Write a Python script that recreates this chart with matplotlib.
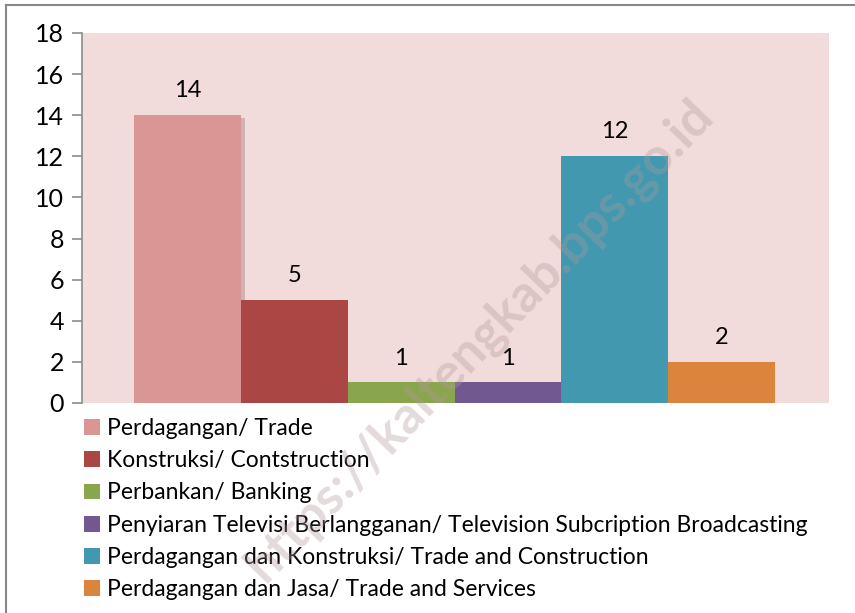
import matplotlib
matplotlib.use("Agg")
import matplotlib.pyplot as plt
from matplotlib.lines import Line2D
import matplotlib.patheffects as pe

categories = [
    "Perdagangan/ Trade",
    "Konstruksi/ Contstruction",
    "Perbankan/ Banking",
    "Penyiaran Televisi Berlangganan/ Television Subcription Broadcasting",
    "Perdagangan dan Konstruksi/ Trade and Construction",
    "Perdagangan dan Jasa/ Trade and Services",
]
values = [14, 5, 1, 1, 12, 2]
colors = ["#D99694", "#AA4644", "#89A54E", "#71588F", "#4198AF", "#DB843D"]
yticks = [0, 2, 4, 6, 8, 10, 12, 14, 16, 18]

plt.rcParams['font.family'] = ['Lato', 'DejaVu Sans']

W, H = 855, 613
fig = plt.figure(figsize=(W / 100, H / 100), dpi=100)
fig.patch.set_facecolor("white")

ax = fig.add_axes([82 / W, (H - 403) / H, (829 - 82) / W, (403 - 33) / H])
ax.set_facecolor("#F2DCDB")

x = list(range(len(values)))
bars = ax.bar(x, values, width=1.0, color=colors, zorder=2)
bars[0].set_path_effects([pe.SimplePatchShadow(offset=(3, -2), shadow_rgbFace="#8a6a6a", alpha=0.35), pe.Normal()])

ax.bar_label(bars, labels=[str(v) for v in values], padding=10, fontsize=17, color="#000000")

ax.set_ylim(0, 18)
ax.set_xlim(-0.5 - 52 / 107, 5.5 + 54 / 107)
ax.set_yticks(yticks)
ax.set_yticklabels([str(t) for t in yticks], fontsize=18)
ax.set_xticks([])
ax.tick_params(axis="y", direction="out", length=7, width=1.2, color="#8C8C8C", pad=6)
for s in ["top", "right", "bottom"]:
    ax.spines[s].set_visible(False)
ax.spines["left"].set_color("#8C8C8C")
ax.spines["left"].set_linewidth(1.2)

leg = fig.legend(bars, categories, loc="upper left",
                 bbox_to_anchor=(84 / W, 1 - 418 / H), frameon=False,
                 fontsize=16.5, handlelength=0.68, handleheight=0.68,
                 handletextpad=0.33, labelspacing=0.49, borderpad=0, borderaxespad=0)
for h in leg.legend_handles:
    h.set_path_effects([])

# watermark
fig.text(480 / W, 1 - 340 / H, "https://kaltengkab.bps.go.id", rotation=46,
         fontsize=37, fontweight="bold", color="#B09898", alpha=0.35,
         ha="center", va="center", zorder=10)

# outer frame (top and left edges visible)
fig.add_artist(Line2D([6 / W, 6 / W], [0, 1 - 5 / H], transform=fig.transFigure, color="#888888", lw=1.5))
fig.add_artist(Line2D([6 / W, 1], [1 - 5 / H, 1 - 5 / H], transform=fig.transFigure, color="#888888", lw=1.5))

fig.savefig("out.png", dpi=100)
